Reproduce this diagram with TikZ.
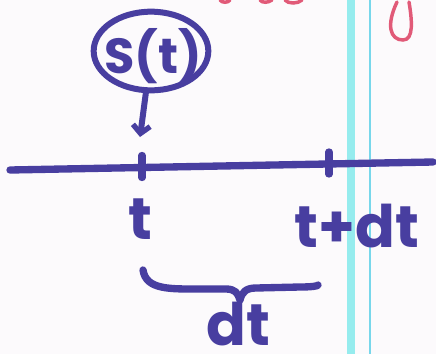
\documentclass[tikz,border=0pt]{standalone}
\usepackage{fontspec}
\setmainfont{Poppins}
\usetikzlibrary{arrows.meta,shapes.geometric,calc}
\definecolor{ink}{RGB}{72,62,160}
\definecolor{redink}{RGB}{225,90,120}
\definecolor{cyanline}{RGB}{150,236,238}
\definecolor{thinline}{RGB}{120,215,235}
\definecolor{paper}{RGB}{252,250,252}
\tikzset{
  pen/.style={draw=ink, line width=5.5pt, line cap=round, line join=round},
  lbl/.style={text=ink, inner sep=0pt, font=\bfseries\fontsize{44}{44}\selectfont},
  redpen/.style={draw=redink, line width=2.6pt, line cap=round},
}
\begin{document}
\begin{tikzpicture}[x=0.75pt,y=-0.75pt]
\fill[paper] (0,0) rectangle (436,354);
\useasboundingbox (0,0) rectangle (436,354);
% notebook margin lines
\fill[cyanline] (347,0) rectangle (355,354);
\draw[thinline, line width=1.4pt] (370,0) -- (370,354);
% red fragments at top
\draw[redpen] (397,2) .. controls (386,25) and (390,40) .. (403,40) .. controls (414,40) and (412,20) .. (409,2);
\draw[redpen] (220,0) .. controls (222,3) and (228,3) .. (230,0);
\draw[redpen] (260,0) .. controls (262,3) and (268,3) .. (272,0);
\draw[redpen] (285,0) .. controls (288,4) and (298,4) .. (302,0);
% S(t) bubble
\node[ellipse, pen, line width=4.5pt, minimum width=86pt, minimum height=59pt, inner sep=0pt] (s) at (151,51) {};
\node[lbl, font=\bfseries\fontsize{37}{37}\selectfont] (stxt) at (153,56) {S(t)};
% axis
\coordinate (axL) at (10,170);
\coordinate (axR) at (433,162);
\draw[pen] (axL) -- (axR);
\coordinate (t1) at (142,166.5);
\coordinate (t2) at (329,163);
\draw[pen] ($(t1)+(0,-11)$) -- ($(t1)+(0,11)$);
\draw[pen] ($(t2)+(0,-11)$) -- ($(t2)+(0,11)$);
% arrow
\coordinate (tip) at (140,137);
\draw[pen, line width=4.5pt, -{Straight Barb[length=6pt,width=13pt,line width=4pt]}] (s.263) -- (tip);
% labels
\node[lbl] (lt) at (140,219) {t};
\node[lbl] (ltdt) at (357,226) {t+dt};
\node[lbl] (ldt) at (238,324) {dt};
% brace
\coordinate (bL) at (143,270);
\coordinate (bR) at (318,285);
\draw[pen] (bL) .. controls (146,290) and (170,289) .. (200,289) -- (226,289)
  .. controls (235,289) and (238,293) .. (240,300)
  .. controls (242,292) and (246,288) .. (256,288) -- (300,287)
  .. controls (312,287) and (318,286) .. (bR);
\end{tikzpicture}
\end{document}
